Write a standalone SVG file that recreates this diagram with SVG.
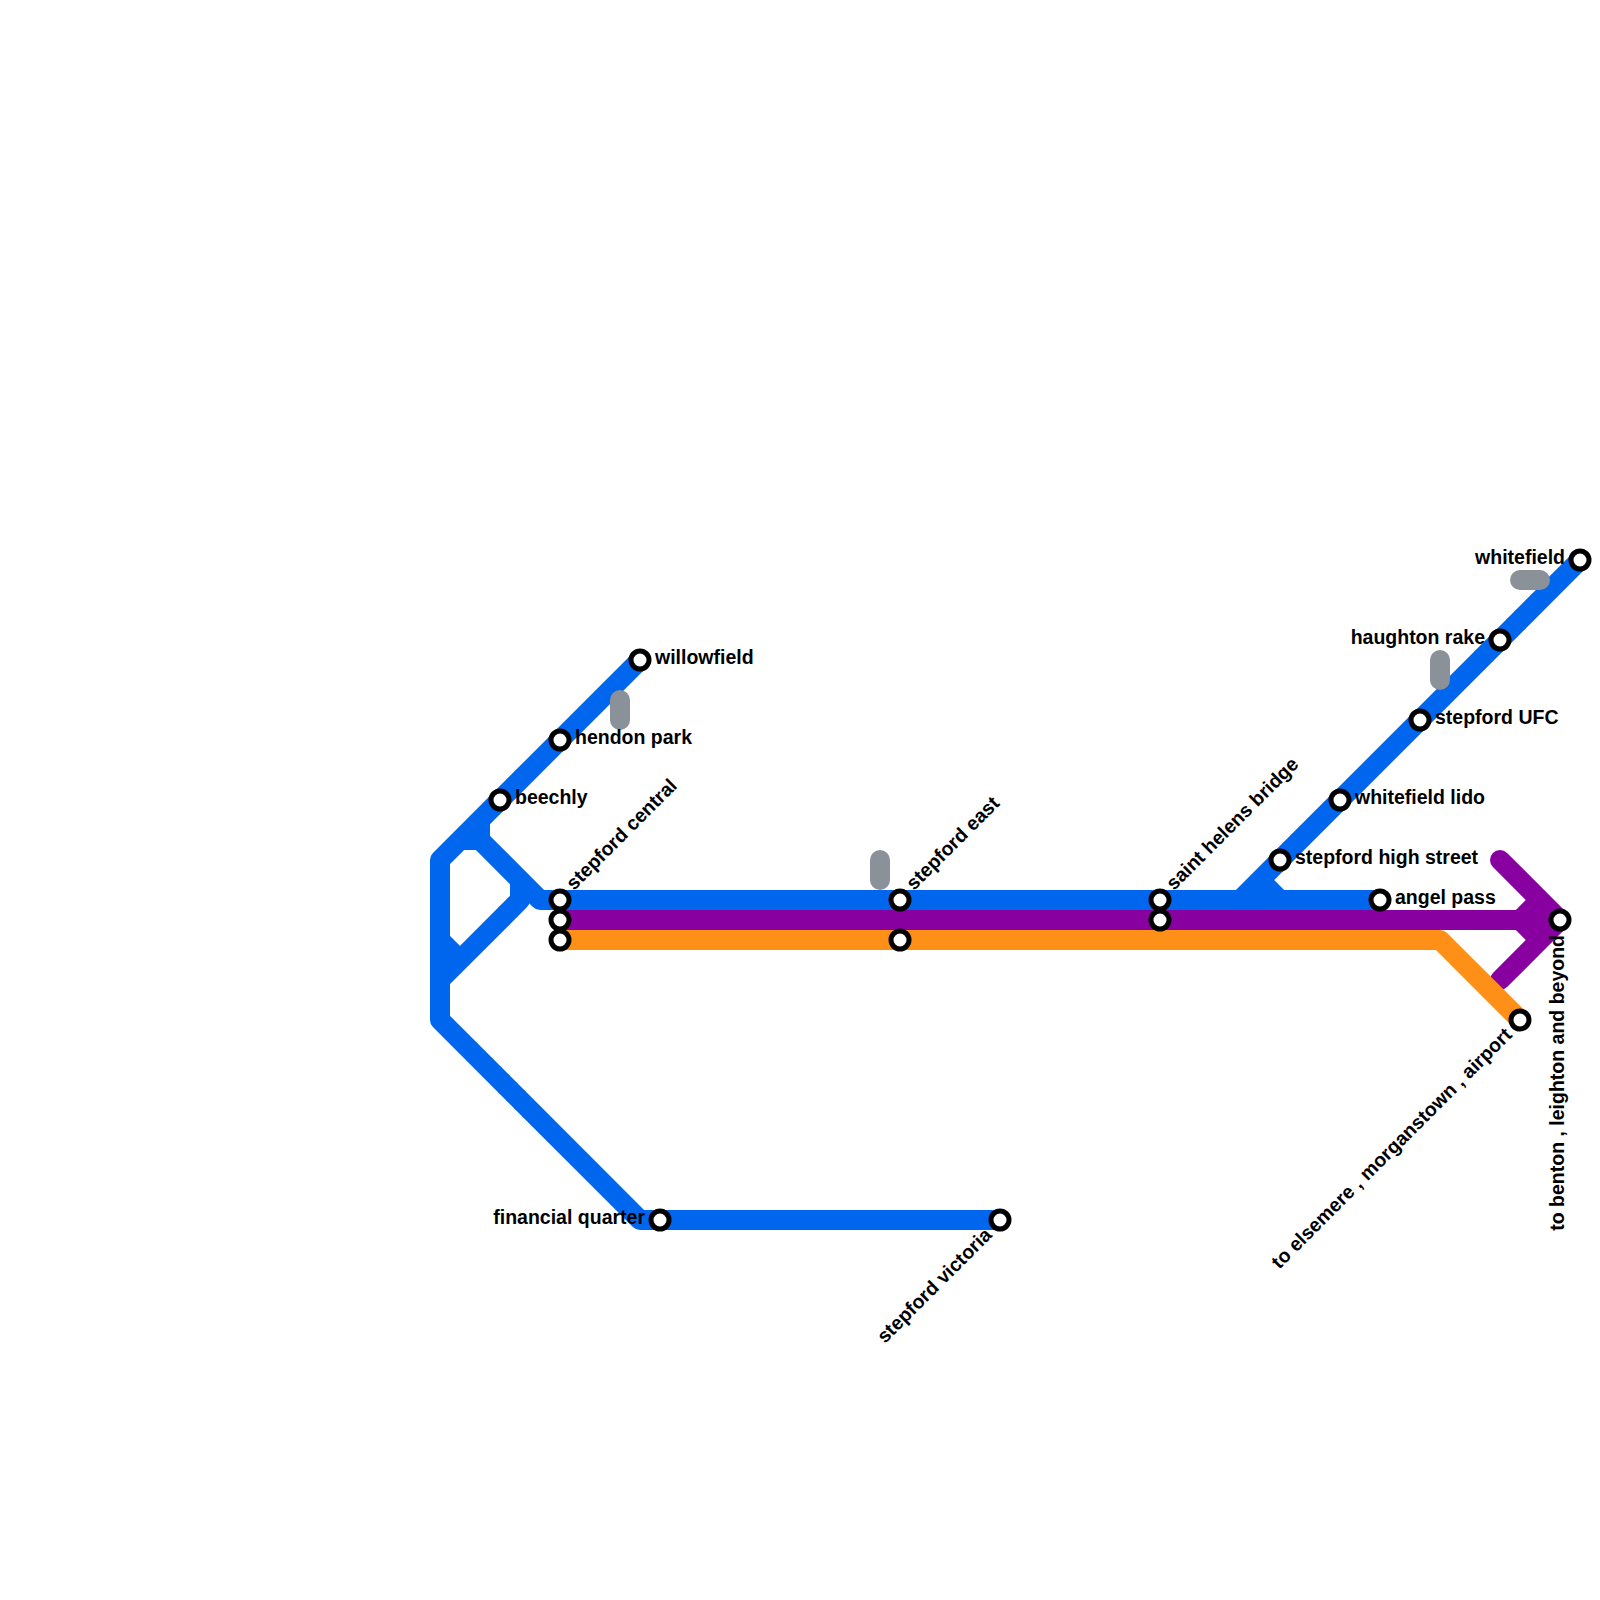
<svg xmlns="http://www.w3.org/2000/svg" width="1600" height="1600" viewBox="0 0 1600 1600">
<style>
.l{fill:none;stroke-width:20;stroke-linejoin:round}
.b{stroke:#0066ee}.p{stroke:#8800a0}.o{stroke:#ff9017}
.g{stroke:#8a9199;stroke-linecap:round}
.st{fill:#fff;stroke:#000;stroke-width:5}
text{font-family:"Liberation Sans",Arial,sans-serif;font-weight:700;font-size:19.5px;fill:#000}
.e{text-anchor:end}
</style>
<rect width="1600" height="1600" fill="#fff"/>
<g id="connectors">
<path class="l b" d="M640 660L440 860V1020L640 1220H1000"/>
<path class="l b" d="M460 840H480V820M480 840L540 900H1380"/>
<path class="l b" d="M520 880V900L440 980M440 940L460 960"/>
<path class="l b" d="M1240 900L1580 560M1260 880L1280 900"/>
<path class="l p" stroke-linecap="round" d="M1500 860L1560 920L1500 980"/>
<path class="l p" d="M560 920H1560M1540 900L1520 920L1540 940"/>
<path class="l o" d="M560 940H1440L1520 1020"/>
<path class="l g" d="M620 700V720"/>
<path class="l g" d="M880 860V880"/>
<path class="l g" d="M1440 660V680"/>
<path class="l g" d="M1520 580H1540"/>
</g>
<g id="willowfield"><circle class="st" cx="640" cy="660" r="9"/><text x="655" y="664">willowfield</text></g>
<g id="hendon-park"><circle class="st" cx="560" cy="740" r="9"/><text x="575" y="744">hendon park</text></g>
<g id="beechly"><circle class="st" cx="500" cy="800" r="9"/><text x="515" y="804">beechly</text></g>
<g id="stepford-central"><circle class="st" cx="560" cy="900" r="9"/><circle class="st" cx="560" cy="920" r="9"/><circle class="st" cx="560" cy="940" r="9"/><text transform="translate(574 891) rotate(-45)">stepford central</text></g>
<g id="stepford-east"><circle class="st" cx="900" cy="900" r="9"/><circle class="st" cx="900" cy="940" r="9"/><text transform="translate(914 891) rotate(-45)">stepford east</text></g>
<g id="saint-helens-bridge"><circle class="st" cx="1160" cy="900" r="9"/><circle class="st" cx="1160" cy="920" r="9"/><text transform="translate(1174 891) rotate(-45)">saint helens bridge</text></g>
<g id="stepford-high-street"><circle class="st" cx="1280" cy="860" r="9"/><text x="1295" y="864">stepford high street</text></g>
<g id="whitefield-lido"><circle class="st" cx="1340" cy="800" r="9"/><text x="1355" y="804">whitefield lido</text></g>
<g id="stepford-ufc"><circle class="st" cx="1420" cy="720" r="9"/><text x="1435" y="724">stepford UFC</text></g>
<g id="haughton-rake"><circle class="st" cx="1500" cy="640" r="9"/><text class="e" x="1485" y="644">haughton rake</text></g>
<g id="whitefield"><circle class="st" cx="1580" cy="560" r="9"/><text class="e" x="1565" y="564">whitefield</text></g>
<g id="angel-pass"><circle class="st" cx="1380" cy="900" r="9"/><text x="1395" y="904">angel pass</text></g>
<g id="benton"><circle class="st" cx="1560" cy="920" r="9"/><text class="e" transform="translate(1564 935) rotate(-90)">to benton , leighton and beyond</text></g>
<g id="elsemere"><circle class="st" cx="1520" cy="1020" r="9"/><text class="e" transform="translate(1513 1036) rotate(-45)">to elsemere , morganstown , airport</text></g>
<g id="financial-quarter"><circle class="st" cx="660" cy="1220" r="9"/><text class="e" x="645" y="1224">financial quarter</text></g>
<g id="stepford-victoria"><circle class="st" cx="1000" cy="1220" r="9"/><text class="e" transform="translate(993 1236) rotate(-45)">stepford victoria</text></g>
</svg>
